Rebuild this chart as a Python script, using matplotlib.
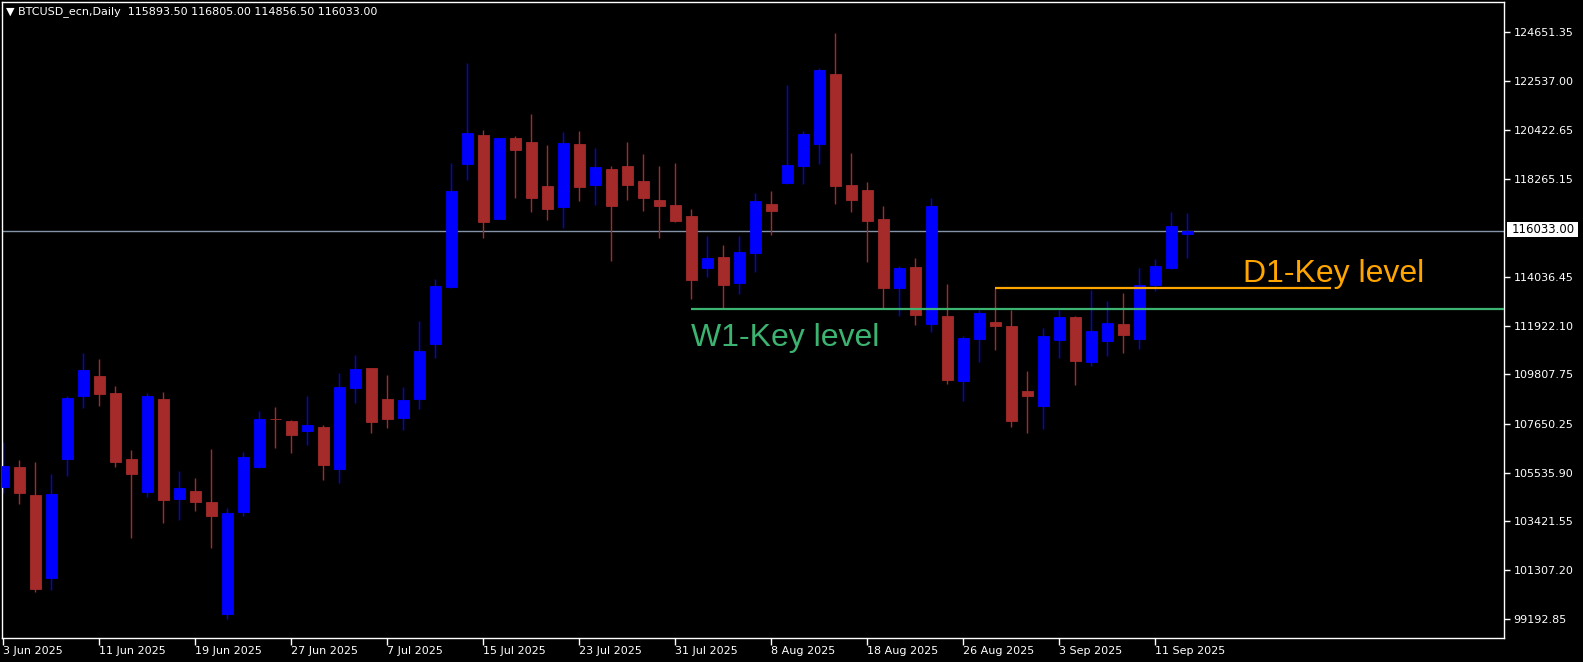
import matplotlib
matplotlib.use("Agg")
import matplotlib.pyplot as plt
from matplotlib.patches import Rectangle
import numpy as np

# ---- data (daily OHLC) ----
opens = [104930, 105785, 104570, 100981, 106132, 108880, 109735, 108997, 106132, 104713,
         108736, 104396, 104744, 104266, 99418, 103845, 105785, 107868, 107782, 107348,
         107521, 105698, 109227, 110082, 108736, 107925, 108736, 111136, 113597, 118948,
         120194, 116548, 120064, 119890, 117981, 117069, 119803, 118024, 118718, 118849,
         118198, 117373, 117156, 116679, 114422, 114899, 113771, 115073, 117199, 118111,
         118849, 119803, 122841, 118024, 117807, 116548, 113554, 114465, 111991, 112339,
         109518, 111340, 112078, 111905, 109084, 108433, 111297, 112295, 110342, 111254,
         111991, 111340, 113684, 114422, 115893.5]
highs = [106883, 106089, 106002, 105481, 108880, 110720, 110472, 109301, 106523, 108984,
         109040, 105612, 105308, 106566, 104006, 106436, 108216, 108389, 107825, 108867,
         107608, 109865, 110646, 110100, 109778, 109257, 112122, 113944, 118979, 123319,
         120411, 120080, 120151, 121105, 119760, 120324, 120368, 119630, 118849, 119890,
         119369, 118849, 118979, 116982, 115811, 115420, 115811, 117677, 117764, 122364,
         120368, 123102, 124621, 119413, 118154, 117113, 114509, 114856, 117460, 113727,
         111471, 112599, 113567, 112599, 109952, 111818, 112599, 112339, 113467, 112990,
         113337, 114422, 114812, 116852, 116805]
lows = [104644, 104192, 100373, 100460, 105408, 108359, 108446, 105798, 102717, 104496,
        103368, 103498, 103889, 102283, 99175, 103672, 105755, 106623, 106406, 106740,
        105221, 105091, 108576, 107261, 107478, 107391, 108302, 110529, 113550, 118254,
        115724, 116530, 117460, 116852, 116505, 116158, 117330, 117156, 114726, 117373,
        116896, 115724, 116418, 113076, 114031, 112686, 113293, 114248, 115854, 118080,
        118067, 118935, 117199, 116852, 114682, 112686, 112339, 111948, 111644, 109387,
        108650, 110342, 110863, 107521, 107261, 107434, 110516, 109344, 110169, 110603,
        110733, 110906, 113424, 114400, 114856.5]
closes = [105829, 104670, 100503, 104613, 108780, 109995, 108966, 106015, 105494, 108867,
          104366, 104874, 104279, 103672, 103789, 106219, 107868, 107847, 107174, 107608,
          105872, 109257, 110038, 107738, 107868, 108693, 110820, 113641, 117764, 120281,
          116418, 120064, 119543, 117460, 116982, 119847, 117937, 118805, 117113, 118024,
          117460, 117113, 116462, 113901, 114856, 113684, 115116, 117330, 116896, 118892,
          120237, 123015, 117981, 117373, 116462, 113554, 114422, 112382, 117113, 109561,
          111384, 112469, 111905, 107782, 108867, 111471, 112295, 110386, 111688, 112035,
          111514, 113684, 114509, 116245, 116033]

date_labels = ['3 Jun 2025', '11 Jun 2025', '19 Jun 2025', '27 Jun 2025', '7 Jul 2025',
               '15 Jul 2025', '23 Jul 2025', '31 Jul 2025', '8 Aug 2025', '18 Aug 2025',
               '26 Aug 2025', '3 Sep 2025', '11 Sep 2025']
price_ticks = [124651.35, 122537.00, 120422.65, 118265.15, 114036.45, 111922.10,
               109807.75, 107650.25, 105535.90, 103421.55, 101307.20, 99192.85]
current_price = 116033.00
w1_level = 112642
d1_level = 113567
w1_start_bar = 43
d1_start_bar = 62
d1_end_bar = 83
title = "\u25BC BTCUSD_ecn,Daily  115893.50 116805.00 114856.50 116033.00"

# ---- figure ----
W, H = 1583, 662
fig = plt.figure(figsize=(W / 100, H / 100), dpi=100, facecolor='black')
ax = fig.add_axes([2 / W, 1 - 638 / H, (1504 - 2) / W, (638 - 2) / H], facecolor='black')

n = len(opens)
x = np.arange(n)
o = np.array(opens, float); c = np.array(closes, float)
h = np.array(highs, float); l = np.array(lows, float)
bull = c >= o
bull_col = '#0000FF'
bear_col = '#A52A2A'
cols = np.where(bull, bull_col, bear_col)

ax.vlines(x, l, h, colors=cols, linewidth=1.0, zorder=2)
bottoms = np.minimum(o, c)
heights = np.abs(c - o)
ax.bar(x, heights, width=0.69, bottom=bottoms, color=cols, edgecolor=cols,
       linewidth=0.6, zorder=3)

xmin, xmax = -0.08, 93.79
ax.set_xlim(xmin, xmax)
ax.set_ylim(98364, 125966)

# current price line
ax.axhline(current_price, color='#8494A8', linewidth=1.0, zorder=1)

# key levels
ax.hlines(w1_level, w1_start_bar, xmax, color='#3CB371', linewidth=1.6, zorder=4)
ax.hlines(d1_level, d1_start_bar, d1_end_bar, color='#FFA500', linewidth=1.6, zorder=4)
ax.text(w1_start_bar, 111037, 'W1-Key level', color='#3CB371', fontsize=23,
        family=['Liberation Sans', 'DejaVu Sans'], ha='left', va='baseline', zorder=5)
ax.text(77.45, 113827, 'D1-Key level', color='#FFA500', fontsize=23,
        family=['Liberation Sans', 'DejaVu Sans'], ha='left', va='baseline', zorder=5)

# axes styling
for s in ax.spines.values():
    s.set_color('white')
    s.set_linewidth(1.0)
ax.yaxis.tick_right()
ax.set_yticks(price_ticks)
ax.set_yticklabels([f'{v:.2f}' for v in price_ticks])
ax.tick_params(axis='y', colors='white', labelcolor='white', length=4, width=1,
               direction='out', labelsize=8, pad=3)
ax.set_xticks(np.arange(0, 6 * len(date_labels), 6))
ax.set_xticklabels(date_labels)
ax.tick_params(axis='x', colors='white', labelcolor='white', length=5, width=1,
               direction='out', labelsize=8, pad=1)
for lab in ax.get_xticklabels():
    lab.set_ha('left')

# current price tag on axis
fig.patches.append(Rectangle((1507 / W, 1 - 237 / H), 71 / W, 15 / H,
                             transform=fig.transFigure, facecolor='white',
                             edgecolor='none', zorder=5))
fig.text(1512 / W, 1 - 229.5 / H, f'{current_price:.2f}', color='black', fontsize=8.5,
         ha='left', va='center', zorder=7)

fig.text(6 / W, 1 - 12 / H, title, color='white', fontsize=8, ha='left', va='center')

fig.savefig('out.png', dpi=100, facecolor='black')
